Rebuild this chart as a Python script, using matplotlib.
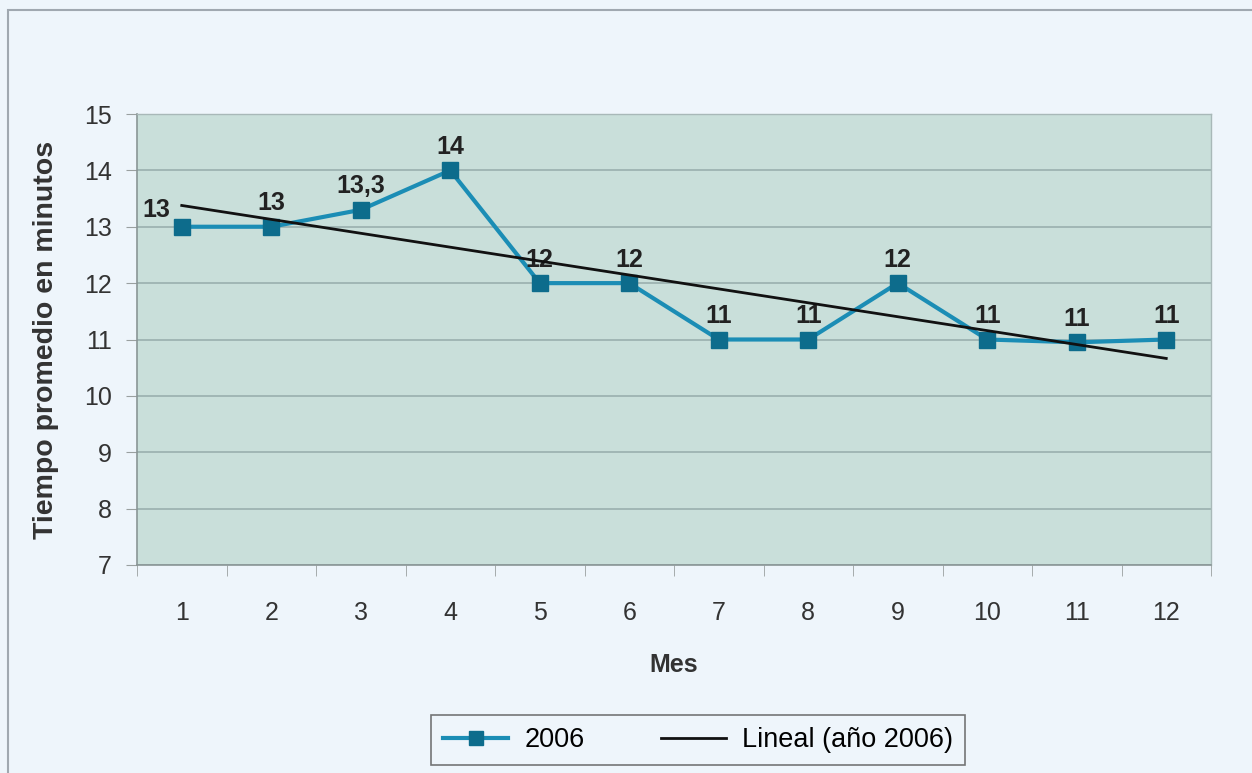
import matplotlib
matplotlib.use("Agg")
import matplotlib.pyplot as plt
import numpy as np
from matplotlib.patches import Rectangle
from matplotlib.lines import Line2D

plt.rcParams['font.family'] = ['Liberation Sans', 'DejaVu Sans']

months = [1, 2, 3, 4, 5, 6, 7, 8, 9, 10, 11, 12]
values = [13, 13, 13.3, 14, 12, 12, 11, 11, 12, 11, 10.95, 11]
labels = ["13", "13", "13,3", "14", "12", "12", "11", "11", "12", "11", "11", "11"]
yticks = [7, 8, 9, 10, 11, 12, 13, 14, 15]

fig = plt.figure(figsize=(12.52, 7.73), dpi=100)
fig.patch.set_facecolor('#EEF5FB')
fig.add_artist(Rectangle((8/1252, -0.01), 1.05, 1 - 10/773 + 0.01, transform=fig.transFigure,
                         fill=False, edgecolor='#A0A8B0', linewidth=1.5))

ax = fig.add_axes([137/1252, 1 - 565/773, 1074/1252, 451/773])
ax.set_facecolor('#C9DFDA')

x = np.array(months)
y = np.array(values)
coef = np.polyfit(x, y, 1)
trend = np.polyval(coef, x)

ax.plot(x, y, color='#1B8DB5', linewidth=3, marker='s', markersize=11,
        markerfacecolor='#0D6C8C', markeredgecolor='#0D6C8C', zorder=3)
ax.plot(x, trend, color='#111111', linewidth=2, zorder=4)

for i, (xi, yi, lab) in enumerate(zip(x, y, labels)):
    off = (-18, 12) if i == 0 else (0, 17)
    ax.annotate(lab, (xi, yi), xytext=off, textcoords='offset points',
                ha='center', va='center', fontsize=18, fontweight='bold', color='#222222')

ax.set_xlim(0.5, 12.5)
ax.set_ylim(7, 15)
ax.set_yticks(yticks)
ax.set_yticklabels([str(t) for t in yticks])
ax.yaxis.grid(True, color='#9AAFAE', linewidth=1.2)
ax.set_axisbelow(True)

ax.set_xticks(months)
ax.set_xticklabels([str(m) for m in months])
ax.set_xticks(np.arange(0.5, 13, 1), minor=True)
ax.tick_params(axis='x', which='major', length=0, pad=26, labelsize=18, labelcolor='#333333')
ax.tick_params(axis='x', which='minor', length=8, color='#9AA0A0', direction='out')
ax.tick_params(axis='y', length=8, color='#9AA0A0', direction='out', labelsize=18,
               labelcolor='#333333', pad=10)

for s in ['left', 'bottom']:
    ax.spines[s].set_color('#8A9696')
    ax.spines[s].set_linewidth(1.2)
for s in ['top', 'right']:
    ax.spines[s].set_color('#A8B8B8')
    ax.spines[s].set_linewidth(1.0)

ax.set_xlabel('Mes', fontsize=18, fontweight='bold', color='#333333', labelpad=20)
ax.set_ylabel('Tiempo promedio en minutos', fontsize=20.5, fontweight='bold', color='#333333', labelpad=18)

h1 = Line2D([], [], color='#1B8DB5', linewidth=3, marker='s', markersize=10,
            markerfacecolor='#0D6C8C', markeredgecolor='#0D6C8C')
h2 = Line2D([], [], color='#111111', linewidth=2)
leg = fig.legend([h1, h2], ['2006', 'Lineal (año 2006)'], loc='center',
                 bbox_to_anchor=(698/1252, 1 - 740/773), ncol=2, fontsize=19.5,
                 frameon=True, fancybox=False, edgecolor='#555555', facecolor='#EEF5FB',
                 handlelength=2.4, handletextpad=0.6, columnspacing=2.8, borderpad=0.45)
leg.get_frame().set_linewidth(1.2)

fig.savefig('out.png', dpi=100, facecolor=fig.get_facecolor())
